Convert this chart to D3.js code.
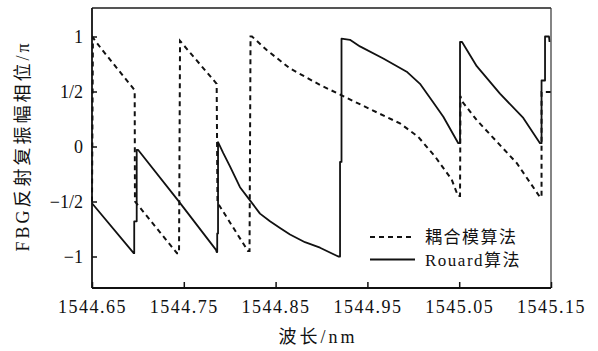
<!DOCTYPE html>
<html><head><meta charset="utf-8">
<script src="https://cdn.jsdelivr.net/npm/d3@7"></script>
</head>
<body style="margin:0;background:#fff"><svg id="c" width="598" height="351" style="display:block"></svg>
<script>
// wavelength (nm) and phase (/π) — coupled-mode (dashed)
const cmWave = [1544.650,1544.651,1544.660,1544.6947,1544.6965,1544.6968,1544.7426,1544.7448,1544.7459,1544.7469,1544.7858,1544.7867,1544.8199,1544.8216,1544.8227,1544.8243,1544.8403,1544.8656,1544.8983,1544.9256,1544.9528,1544.9855,1545.0051,1545.0236,1545.0418,1545.0487,1545.0509,1545.0514,1545.0523,1545.0691,1545.1126,1545.1380,1545.1397,1545.1397,1545.1500];
const cmPhase = [-0.50,0.99,0.89,0.53,0.51,-0.50,-0.97,-0.97,0.96,0.95,0.57,-0.51,-0.95,-0.95,1.00,1.00,0.877,0.71,0.56,0.45,0.34,0.21,0.09,-0.09,-0.30,-0.45,-0.45,0.46,0.42,0.24,-0.15,-0.46,-0.46,0.495,0.495];
// Rouard method (solid)
const rdWave = [1544.650,1544.6954,1544.6960,1544.6960,1544.6987,1544.6987,1544.7001,1544.7437,1544.7851,1544.7858,1544.7864,1544.7864,1544.7873,1544.7873,1544.7930,1544.8003,1544.8112,1544.8221,1544.8330,1544.8439,1544.8548,1544.8657,1544.8820,1544.8984,1544.9183,1544.9202,1544.9202,1544.9218,1544.9218,1544.9310,1544.9419,1544.9673,1544.9928,1545.0073,1545.0218,1545.0327,1545.0490,1545.0509,1545.0509,1545.0531,1545.0691,1545.0944,1545.1198,1545.1380,1545.1397,1545.1397,1545.1435,1545.1435,1545.1478,1545.1484];
const rdPhase = [-0.516,-0.97,-0.97,-0.68,-0.68,-0.03,-0.03,-0.49,-0.94,-0.96,-0.96,-0.79,-0.79,0.04,-0.06,-0.18,-0.37,-0.49,-0.61,-0.68,-0.74,-0.80,-0.87,-0.92,-1.00,-1.00,-0.14,-0.14,0.98,0.97,0.91,0.80,0.68,0.57,0.40,0.27,0.03,0.03,0.95,0.95,0.73,0.48,0.26,0.03,0.03,0.60,0.60,1.00,1.00,0.95];
const xTicks = [1544.65,1544.75,1544.85,1544.95,1545.05,1545.15];
const xTickLabels = ["1544.65","1544.75","1544.85","1544.95","1545.05","1545.15"];
const yTicks = [1,0.5,0,-0.5,-1];
const yTickLabels = ["1","1/2","0","\u22121/2","\u22121"];
const legendLabels = ["耦合模算法","Rouard算法"];

const LAT = '"Liberation Serif"';
const CJK = '"Noto Sans CJK SC"';
const isCJK = ch => /[\u3000-\u9fff\uff00-\uffef]/.test(ch);
function richText(sel, str){
  const runs = [];
  for (const ch of str){
    const c = isCJK(ch);
    if (runs.length && runs[runs.length-1].c===c) runs[runs.length-1].s += ch;
    else runs.push({c, s:ch});
  }
  runs.forEach(r=>sel.append("tspan").style("font-family", r.c?CJK:LAT).text(r.s));
  return sel;
}

const svg = d3.select("#c");
const L=92,R=551,T=8,B=288;
const x = d3.scaleLinear().domain([1544.65,1545.15]).range([L,R]);
const y = d3.scaleLinear().domain([-1,1]).range([256.5,36.5]);

const line = d3.line().x(d=>x(d[0])).y(d=>y(d[1]));
const cm = cmWave.map((w,i)=>[w,cmPhase[i]]);
const rd = rdWave.map((w,i)=>[w,rdPhase[i]]);

const g = svg.append("g");
g.append("path").attr("d",line(cm)).attr("fill","none").attr("stroke","#111")
 .attr("stroke-width",2).attr("stroke-dasharray","5,4");
g.append("path").attr("d",line(rd)).attr("fill","none").attr("stroke","#111")
 .attr("stroke-width",1.8).attr("stroke-linejoin","round");

// frame
svg.append("line").attr("x1",L).attr("x2",R).attr("y1",T).attr("y2",T).attr("stroke","#555").attr("stroke-width",2);
svg.append("line").attr("x1",L).attr("x2",L).attr("y1",T).attr("y2",B).attr("stroke","#111").attr("stroke-width",1.8);
svg.append("line").attr("x1",R).attr("x2",R).attr("y1",T).attr("y2",B).attr("stroke","#333").attr("stroke-width",1.2);
svg.append("line").attr("x1",L).attr("x2",R).attr("y1",B).attr("y2",B).attr("stroke","#111").attr("stroke-width",1.8);

// x axis ticks (inward)
const xa = d3.axisBottom(x).tickValues(xTicks).tickSize(-6).tickPadding(12)
  .tickFormat((d,i)=>xTickLabels[i]);
const gx = svg.append("g").attr("transform",`translate(0,${B})`).call(xa);
gx.select(".domain").remove();
gx.selectAll(".tick line").attr("stroke","#111").attr("stroke-width",1.5);
gx.selectAll(".tick text").style("font-family",LAT).style("font-size","18px")
  .style("letter-spacing","1.5px").attr("fill","#111");

const ya = d3.axisLeft(y).tickValues(yTicks).tickSize(-5).tickPadding(9)
  .tickFormat((d,i)=>yTickLabels[i]);
const gy = svg.append("g").attr("transform",`translate(${L},0)`).call(ya);
gy.select(".domain").remove();
gy.selectAll(".tick line").attr("stroke","#111").attr("stroke-width",1.5);
gy.selectAll(".tick text").style("font-family",LAT).style("font-size","18px").attr("fill","#111");

// titles
const yt = svg.append("text").attr("transform","translate(29,146) rotate(-90)")
  .attr("text-anchor","middle").style("font-size","18px")
  .style("letter-spacing","3px").attr("fill","#111");
richText(yt, "FBG反射复振幅相位/π");
const xt = svg.append("text").attr("x",318).attr("y",343).attr("text-anchor","middle")
  .style("font-size","18px").style("letter-spacing","3px").attr("fill","#111");
richText(xt, "波长/nm");

// legend
const lg = svg.append("g");
[0,1].forEach(i=>{
  const yy = 237 + i*22.5;
  lg.append("line").attr("x1",370).attr("x2",415).attr("y1",yy).attr("y2",yy)
    .attr("stroke","#111").attr("stroke-width",i===0?2:1.8)
    .attr("stroke-dasharray",i===0?"5,4":null);
  const t = lg.append("text").attr("x",425).attr("y",yy+6)
    .style("font-size","17px").style("letter-spacing","1.5px").attr("fill","#111");
  richText(t, legendLabels[i]);
});
</script></body></html>
